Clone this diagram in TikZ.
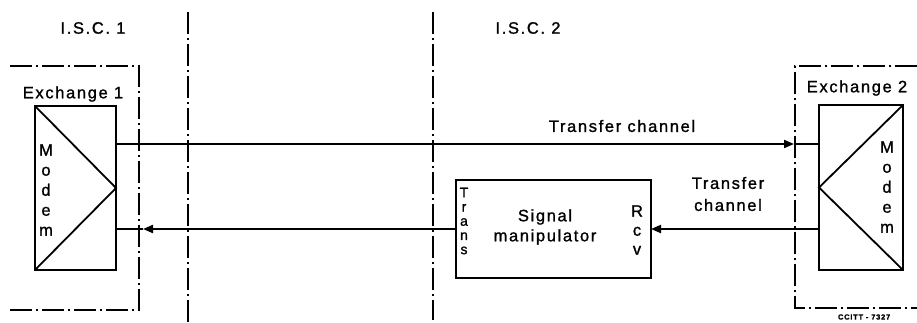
\documentclass[tikz,border=0pt]{standalone}
\usepackage{fontspec}
\setmainfont{Liberation Sans}[LetterSpace=10,FakeBold=1.2]
\usetikzlibrary{arrows.meta}
\begin{document}
\begin{tikzpicture}[x=1pt,y=-1pt,
  every node/.style={inner sep=0pt,outer sep=0pt},
  lbl/.style={font=\fontsize{16.5}{19}\selectfont},
  stack/.style={font=\fontsize{16.5}{#1}\selectfont,align=center},
  blk/.style={draw,line width=2.8pt,minimum width=#1},
  conn/.style={line width=2pt},
  arr/.style={line width=2pt,-{Triangle[length=10pt,width=8pt]}},
  dd/.style={line width=1.5pt,dash pattern=on 22pt off 4pt on 2pt off 4pt},
  tri/.style={line width=1.8pt}]
\useasboundingbox (0,0) rectangle (917,322);
\clip (0,0) rectangle (917,322);
% boundaries
\draw[dd] (188,12) coordinate (v1t) -- (188,322) coordinate (v1b);
\draw[dd] (433,12) coordinate (v2t) -- (433,320) coordinate (v2b);
\draw[dd] (10,66) -- (139,66) -- (139,310) -- (10,310);
\draw[dd] (917,66) -- (795,66) -- (795,308) -- (917,308);
% labels
\node[lbl] (isc1) at (93,28) {I.S.C. 1};
\node[lbl] (isc2) at (528,28) {I.S.C. 2};
\node[lbl] (ex1l) at (73,94) {Exchange 1};
\node[lbl] (ex2l) at (857,88) {Exchange 2};
% exchange boxes
\node[blk=81pt,minimum height=164pt] (ex1) at (75.5,188) {};
\node[blk=84pt,minimum height=165pt] (ex2) at (861,187.5) {};
\draw[tri] (ex1.north west) -- (ex1.east) -- (ex1.south west);
\draw[tri] (ex2.north east) -- (ex2.west) -- (ex2.south east);
\node[stack=20pt] (m1) at (46,190) {M\\o\\d\\e\\m};
\node[stack=20pt] (m2) at (887,187) {M\\o\\d\\e\\m};
% signal manipulator
\node[blk=195pt,minimum height=98pt] (sm) at (553.5,229) {};
\node[stack=20pt] (smt) at (545,227) {Signal\\manipulator};
\node[font=\fontsize{14}{14.2}\selectfont,align=center] (tr) at (464,221) {T\\r\\a\\n\\s};
\node[stack=19pt] (rcv) at (637,230) {R\\c\\v};
% connectors
\coordinate (ua) at (ex1.east |- 0,144);
\coordinate (ub) at (ex2.west |- 0,144);
\coordinate (utip) at (794,144);
\draw[arr] (ua) -- (utip);
\draw[conn] (utip) -- (ub);
\coordinate (la) at (ex1.east |- 0,229);
\coordinate (ltip) at (143,229);
\draw[arr] (sm.west |- 0,229) -- (ltip);
\draw[conn] (ltip) -- (la);
\draw[arr] (ex2.west |- 0,229) -- (sm.east |- 0,229);
\node[lbl] (tc1) at (622,126) {Transfer channel};
\node[stack=22pt] (tc2) at (728,194) {Transfer\\channel};
\node[font=\bfseries\fontsize{7.5}{8}\selectfont,anchor=west] (cc) at (838,317) {CCITT - 7327};
\end{tikzpicture}
\end{document}
